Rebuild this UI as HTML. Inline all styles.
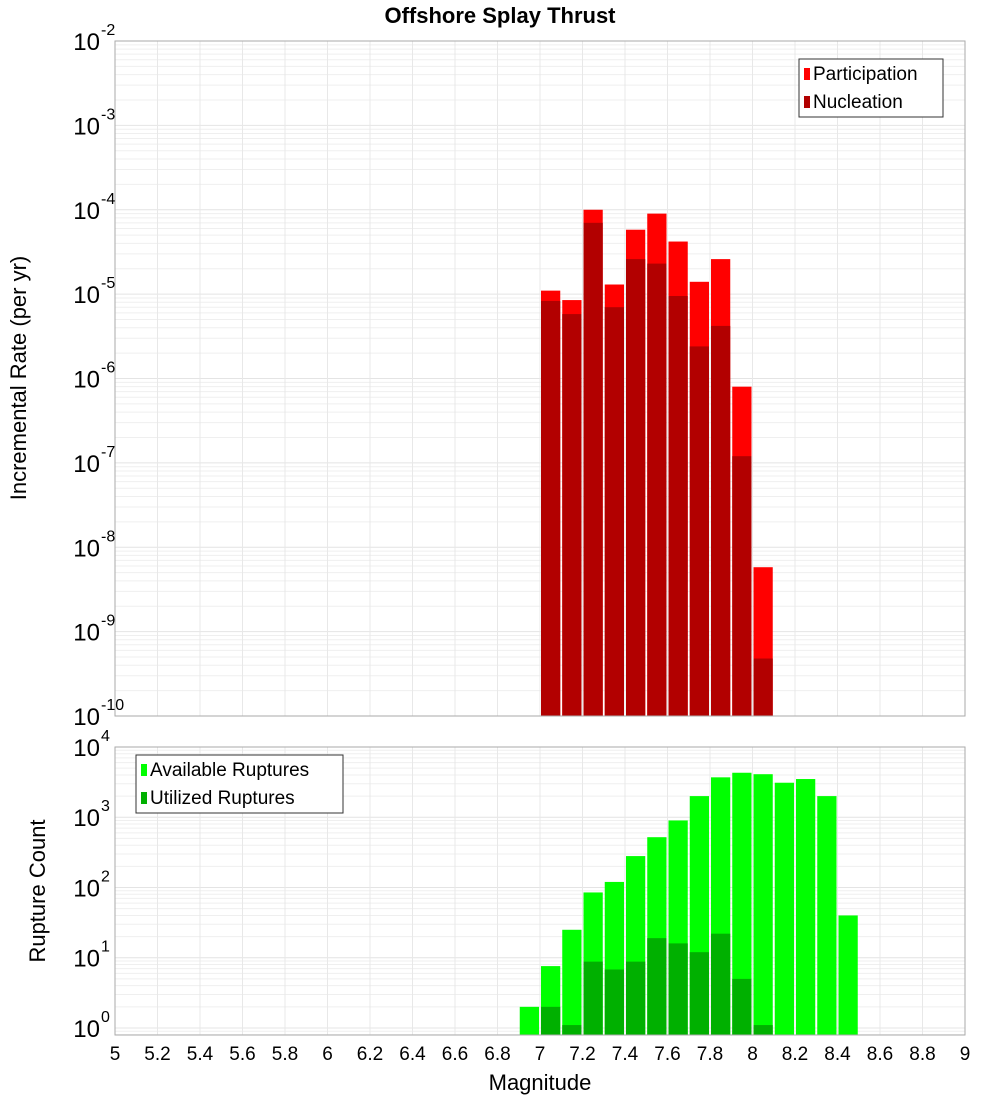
<!DOCTYPE html>
<html><head><meta charset="utf-8"><style>
body{margin:0;background:#fff;}
svg{display:block;font-family:"Liberation Sans","DejaVu Sans",sans-serif;}
</style></head><body>
<svg id="c" width="1000" height="1100">
<text x="500" y="23" text-anchor="middle" font-size="22" font-weight="bold">Offshore Splay Thrust</text>
<text transform="translate(26,378) rotate(-90)" text-anchor="middle" font-size="22">Incremental Rate (per yr)</text>
<text transform="translate(45,891) rotate(-90)" text-anchor="middle" font-size="22">Rupture Count</text>
<text x="540" y="1090" text-anchor="middle" font-size="22">Magnitude</text>
<g id="top"></g><g id="bot"></g>
</svg>
<script>
const bins=[6.9,7.0,7.1,7.2,7.3,7.4,7.5,7.6,7.7,7.8,7.9,8.0,8.1,8.2,8.3,8.4];
const participation=[0,1.1e-5,8.5e-6,1.0e-4,1.3e-5,5.8e-5,9e-5,4.2e-5,1.4e-5,2.6e-5,8e-7,5.8e-9,0,0,0,0];
const nucleation=[0,8.3e-6,5.8e-6,7e-5,7e-6,2.6e-5,2.3e-5,9.5e-6,2.4e-6,4.2e-6,1.2e-7,4.8e-10,0,0,0,0];
const available=[2,7.6,25,85,120,280,520,900,2000,3700,4300,4100,3100,3500,2000,40];
const utilized=[0,2,1.1,8.8,6.8,8.8,19,16,12,22,5,1.1,0,0,0,0];
const xTicks=["5","5.2","5.4","5.6","5.8","6","6.2","6.4","6.6","6.8","7","7.2","7.4","7.6","7.8","8","8.2","8.4","8.6","8.8","9"];
const topExp=[-2,-3,-4,-5,-6,-7,-8,-9,-10];
const botExp=[4,3,2,1,0];
const NS="http://www.w3.org/2000/svg";
const X0=115,X1=965;
const xs=m=>X0+(m-5)/4*(X1-X0);
function mk(p,t,a){const e=document.createElementNS(NS,t);for(const k in a)e.setAttribute(k,a[k]);p.appendChild(e);return e;}
function panel(g,y0,y1,lmin,lmax,exps,series,cols,legend,lx,ly,lw,pname){
 const ys=v=>y1-(Math.log10(v)-lmin)/(lmax-lmin)*(y1-y0);
 // grid
 for(let d=Math.floor(lmin);d<=Math.ceil(lmax);d++)for(let k=1;k<10;k++){const v=k*Math.pow(10,d);const l=Math.log10(v);if(l<lmin||l>lmax)continue;const y=ys(v);
  const ln=mk(g,'line',{x1:X0,x2:X1,y1:y,y2:y,stroke:k==1?'#e4e4e4':'#efefef','stroke-width':1});
  
  }
 for(let i=0;i<xTicks.length;i++){const x=xs(+xTicks[i]);
  const ln=mk(g,'line',{x1:x,x2:x,y1:y0,y2:y1,stroke:'#e8e8e8','stroke-width':1});
  
  }
 // bars
 series.forEach((s,si)=>{s.forEach((v,i)=>{if(!(v>0))return;const xa=xs(bins[i])+1,xb=xs(bins[i]+0.1)-1;const yt=Math.max(ys(v),y0);
  const r=mk(g,'rect',{x:xa,y:yt,width:xb-xa,height:y1-yt,fill:cols[si]});
  
  });});
 const fr=mk(g,'rect',{x:X0,y:y0,width:X1-X0,height:y1-y0,fill:'none',stroke:'#aaa'});
 
 
 exps.forEach(e=>{const y=ys(Math.pow(10,e));const t=mk(g,'text',{x:100,y:y+9,'text-anchor':'end','font-size':24});
  t.textContent='10';
  
  
  const s=mk(g,'text',{x:101,y:y-6,'font-size':16});s.textContent=String(e).replace('-','-');
  
  });
 const lg=mk(g,'g',{});
 
 
 mk(lg,'rect',{x:lx,y:ly,width:lw,height:58,fill:'#fff',stroke:'#333'});
 legend.forEach((n,i)=>{mk(lg,'rect',{x:lx+5,y:ly+9+i*28,width:6,height:12,fill:cols[i]});
  const t=mk(lg,'text',{x:lx+14,y:ly+21+i*28,'font-size':19});t.textContent=n;
  
  });
}
panel(document.getElementById('top'),41,716,-10,-2,topExp,[participation,nucleation],['#ff0000','#b20000'],['Participation','Nucleation'],799,59,144,'top');
panel(document.getElementById('bot'),747,1035,-0.1,4.0,botExp,[available,utilized],['#00ff00','#00b000'],['Available Ruptures','Utilized Ruptures'],136,755,207,'bottom');
const b=document.getElementById('bot');
xTicks.forEach(l=>{const t=mk(b,'text',{x:xs(+l),y:1060,'text-anchor':'middle','font-size':19});t.textContent=l;
 
 });
</script>
</body></html>
